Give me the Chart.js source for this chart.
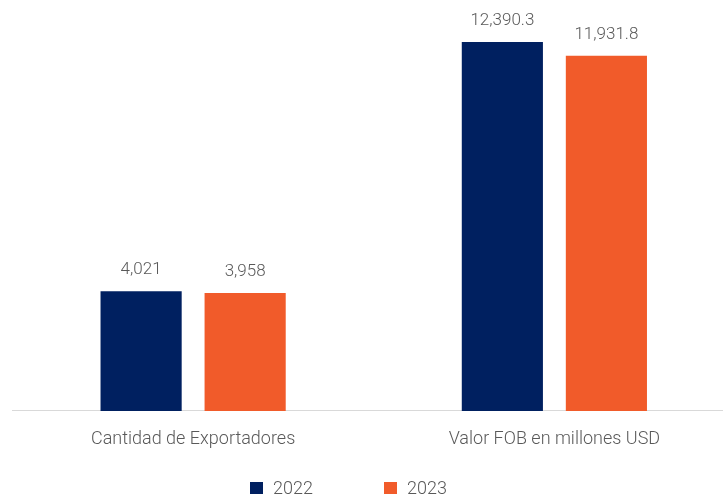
<!DOCTYPE html>
<html>
<head>
<meta charset="utf-8">
<script src="https://cdn.jsdelivr.net/npm/chart.js@4.4.0/dist/chart.umd.min.js"></script>
<style>
  html, body { margin: 0; padding: 0; background: #fff; overflow: hidden; }
  #wrap { position: relative; width: 735px; height: 495px; }
  #legend { position: absolute; top: 0; left: 0; font-family: Roboto, sans-serif; font-weight: 300; font-size: 18px; color: #595959; }
  #legend .item { position: absolute; top: 477px; white-space: nowrap; display: flex; align-items: center; height: 20px; }
  #legend .box { width: 13px; height: 12px; margin-right: 10px; margin-top: 2px; }
</style>
</head>
<body>
<div id="wrap">
  <canvas id="exportChart" width="735" height="495"></canvas>
  <div id="legend"></div>
</div>
<script>
// Exportadores y valor FOB, 2022 vs 2023
const categories = ['Cantidad de Exportadores', 'Valor FOB en millones USD'];
const years = ['2022', '2023'];
const values2022 = [4021, 12390.3];
const values2023 = [3958, 11931.8];
const colors = ['#002060', '#F15B2A'];

function fmt(v) {
    return v.toLocaleString('en-US', { maximumFractionDigits: 1 });
}

// numbers above each bar
const valueLabels = {
    id: 'valueLabels',
    afterDatasetsDraw(chart) {
        const ctx = chart.ctx;
        ctx.save();
        ctx.font = '300 17px Roboto';
        ctx.fillStyle = '#595959';
        ctx.textAlign = 'center';
        ctx.textBaseline = 'alphabetic';
        chart.data.datasets.forEach(function(ds, i) {
            chart.getDatasetMeta(i).data.forEach(function(bar, j) {
                ctx.fillText(fmt(ds.data[j]), bar.x, bar.y - 17);
            });
        });
        ctx.restore();
    }
};

const ctx = document.getElementById('exportChart').getContext('2d');
const exportChart = new Chart(ctx, {
    type: 'bar',
    data: {
        labels: categories,
        datasets: [
            {
                label: years[0],
                data: values2022,
                backgroundColor: colors[0],
                categoryPercentage: 0.576,
                barPercentage: 0.78
            },
            {
                label: years[1],
                data: values2023,
                backgroundColor: colors[1],
                categoryPercentage: 0.576,
                barPercentage: 0.78
            }
        ]
    },
    options: {
        responsive: false,
        animation: false,
        layout: {
            padding: { left: 12.5, right: 0, top: 9, bottom: 27.5 }
        },
        plugins: {
            legend: { display: false },
            tooltip: { enabled: false }
        },
        scales: {
            x: {
                grid: { display: false, drawTicks: false },
                border: { display: true, color: '#D9D9D9', width: 1 },
                ticks: {
                    padding: 17.5,
                    color: '#595959',
                    font: { family: 'Roboto', weight: '300', size: 18 }
                }
            },
            y: {
                display: false,
                min: 0,
                max: 13500
            }
        }
    },
    plugins: [valueLabels]
});

// legend in html, positioned under the chart
const legendEl = document.getElementById('legend');
const legendLeft = [250, 384];
exportChart.data.datasets.forEach(function(ds, i) {
    const item = document.createElement('div');
    item.className = 'item';
    item.style.left = legendLeft[i] + 'px';
    const box = document.createElement('span');
    box.className = 'box';
    box.style.background = ds.backgroundColor;
    item.appendChild(box);
    item.appendChild(document.createTextNode(ds.label));
    legendEl.appendChild(item);
});
</script>
</body>
</html>
